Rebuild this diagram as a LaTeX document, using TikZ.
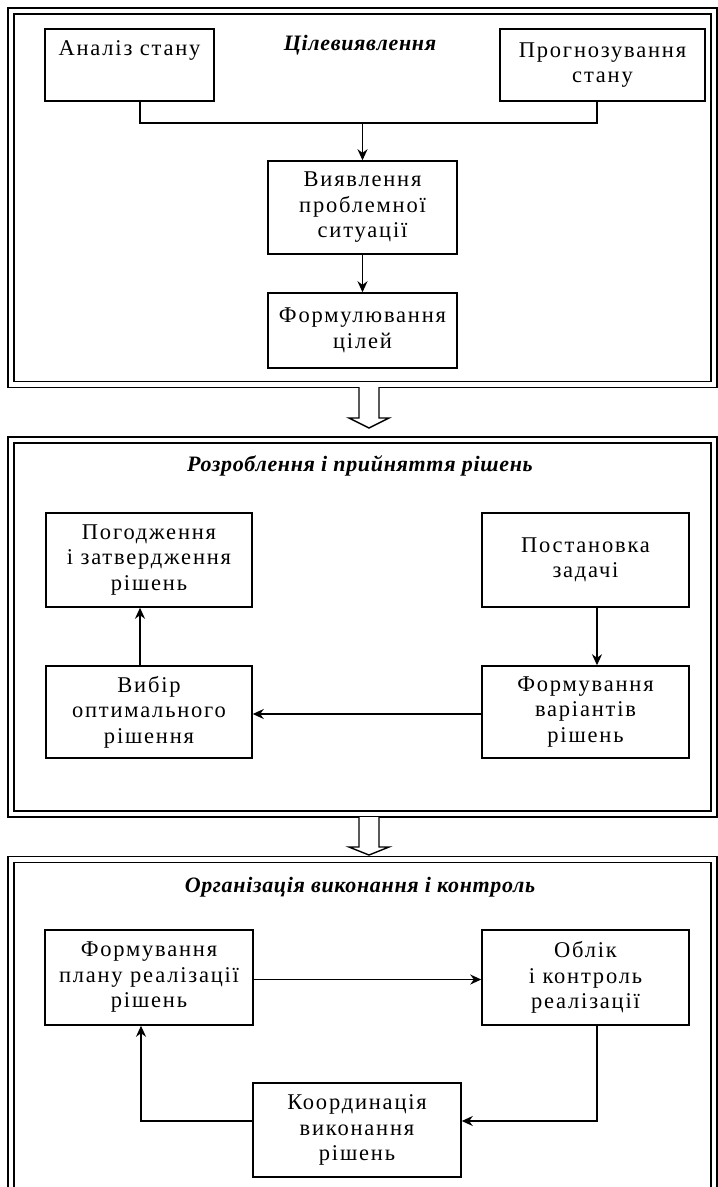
\documentclass[tikz,border=0pt]{standalone}
\usepackage{fontspec}
\setmainfont{Liberation Serif}
\newfontfamily\boxfont{Liberation Serif}[LetterSpace=8]
\newfontfamily\headfont{Liberation Serif}[LetterSpace=3]
\usetikzlibrary{arrows.meta}
\begin{document}
\begin{tikzpicture}[x=1pt,y=-1pt,
  stage/.style={draw, line width=1.6pt, double=white, double distance=4.4pt},
  block/.style={draw, line width=1.5pt, align=center, inner sep=0pt,
    font=\boxfont\fontsize{22.5}{25.5}\selectfont},
  heading/.style={inner sep=0pt, font=\headfont\bfseries\itshape\fontsize{22}{26}\selectfont},
  link/.style={line width=1.5pt, -{Stealth[length=11pt,width=10pt]}},
  wire/.style={line width=1.5pt},
  hollow/.style={draw, line width=1.4pt, fill=white, line join=miter}]
\clip (0,0) rectangle (718,1187);

% stage frames (double rules)
\draw[stage] (11,11) rectangle (714,384.5);
\draw[stage] (11,440) rectangle (714,814);
\draw[stage] (11,1200) -- (11,859.5) -- (714,859.5) -- (714,1200);

% hollow arrows between stages
\draw[hollow] (359,387) -- (359,418) -- (349,418) -- (369,428) -- (389,418) -- (379,418) -- (379,387);
\draw[hollow] (359,817) -- (359,847) -- (349,847) -- (369,855) -- (389,847) -- (379,847) -- (379,817);

% stage 1
\node[heading] (h1) at (360,45) {Цілевиявлення};
\node[block, minimum width=169pt, minimum height=72pt] (an) at (129.5,65) {Аналіз стану\\\strut};
\node[block, minimum width=205pt, minimum height=72pt] (pr) at (602.5,65) {Прогнозування\\стану};
\node[block, minimum width=189pt, minimum height=93pt] (vy) at (362.5,207.5) {Виявлення\\проблемної\\ситуації};
\node[block, minimum width=189pt, minimum height=75pt] (fc) at (362.5,330.5) {Формулювання\\цілей};
\coordinate (j1) at (362.5,123);
\draw[wire] ([xshift=10.5pt]an.south) |- (j1);
\draw[wire] ([xshift=-5.5pt]pr.south) |- (j1);
\draw[link] (j1) -- (vy.north);
\draw[link] (vy) -- (fc);

% stage 2
\node[heading] (h2) at (360,466) {Розроблення і прийняття рішень};
\node[block, minimum width=206pt, minimum height=94pt] (pog) at (149,560) {Погодження\\і затвердження\\рішень};
\node[block, minimum width=206pt, minimum height=92pt] (vyb) at (149,712) {Вибір\\оптимального\\рішення};
\node[block, minimum width=207pt, minimum height=94pt] (post) at (585.5,560) {Постановка\\задачі};
\node[block, minimum width=207pt, minimum height=92pt] (form) at (585.5,712) {Формування\\варіантів\\рішень};
\draw[link] ([xshift=11.5pt]post.south) -- ([xshift=11.5pt]form.north);
\draw[link] ([yshift=-2pt]form.west) -- ([yshift=-2pt]vyb.east);
\draw[link] ([xshift=-9pt]vyb.north) -- ([xshift=-9pt]pog.south);

% stage 3
\node[heading] (h3) at (360,887) {Організація виконання і контроль};
\node[block, minimum width=208pt, minimum height=95pt] (fp) at (149,977.5) {Формування\\плану реалізації\\рішень};
\node[block, minimum width=207pt, minimum height=95pt] (ob) at (585.5,977.5) {Облік\\і контроль\\реалізації};
\node[block, minimum width=208pt, minimum height=94pt] (ko) at (357,1130) {Координація\\виконання\\рішень};
\draw[link] ([yshift=-2pt]fp.east) -- ([yshift=-2pt]ob.west);
\draw[link] ([xshift=11.5pt]ob.south) |- ([yshift=9pt]ko.east);
\draw[link] ([yshift=9pt]ko.west) -| ([xshift=-8pt]fp.south);
\end{tikzpicture}
\end{document}
